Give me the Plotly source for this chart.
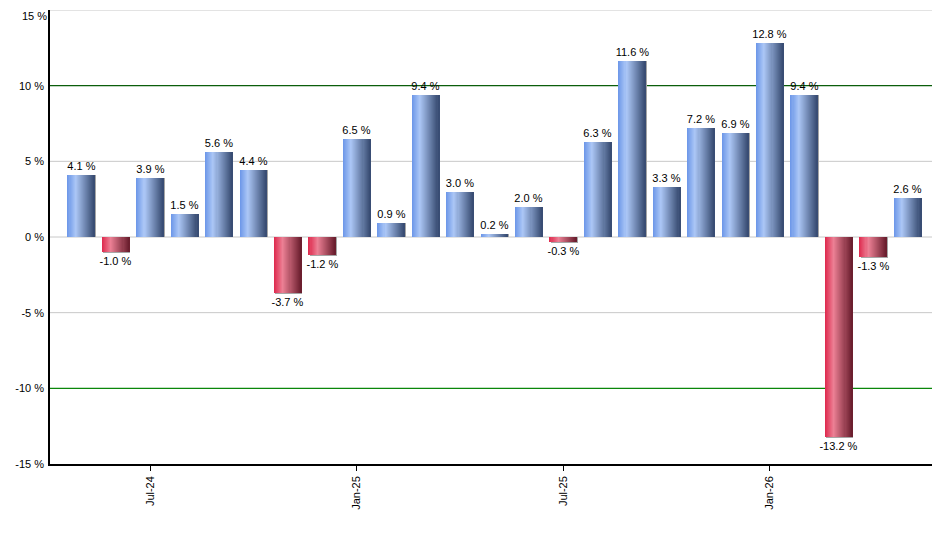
import plotly.graph_objects as go

# monthly returns, May-24 .. May-26
months = ["May-24", "Jun-24", "Jul-24", "Aug-24", "Sep-24", "Oct-24", "Nov-24", "Dec-24",
          "Jan-25", "Feb-25", "Mar-25", "Apr-25", "May-25", "Jun-25", "Jul-25", "Aug-25",
          "Sep-25", "Oct-25", "Nov-25", "Dec-25", "Jan-26", "Feb-26", "Mar-26", "Apr-26",
          "May-26"]
returns = [4.1, -1.0, 3.9, 1.5, 5.6, 4.4, -3.7, -1.2, 6.5, 0.9, 9.4, 3.0, 0.2, 2.0, -0.3,
           6.3, 11.6, 3.3, 7.2, 6.9, 12.8, 9.4, -13.2, -1.3, 2.6]
tick_labels = ["Jul-24", "Jan-25", "Jul-25", "Jan-26"]
y_ticks = [-15, -10, -5, 0, 5, 10, 15]

# horizontal gradient stops (position, rgb) for the bars
blue_stops = [(0.0, (107, 150, 232)), (0.3, (172, 199, 246)), (1.0, (54, 74, 112))]
red_stops = [(0.0, (222, 40, 76)), (0.33, (236, 128, 149)), (1.0, (104, 28, 44))]


def grad_color(stops, t):
    for (p0, c0), (p1, c1) in zip(stops[:-1], stops[1:]):
        if p0 <= t <= p1:
            f = (t - p0) / (p1 - p0)
            c = [round(a + (b - a) * f) for a, b in zip(c0, c1)]
            return f"rgb({c[0]},{c[1]},{c[2]})"
    c = stops[-1][1]
    return f"rgb({c[0]},{c[1]},{c[2]})"


bar_w = 0.78
n_strips = 26
px = 1 / 34.43  # one pixel in category units

fig = go.Figure()

# labels (invisible bar carrying the text)
fig.add_trace(go.Bar(
    x=months, y=returns, width=bar_w,
    marker=dict(color="rgba(0,0,0,0)", line=dict(width=0)),
    text=[f"{v:.1f} %" for v in returns],
    textposition="outside", textangle=0, constraintext="none",
    textfont=dict(family="Liberation Sans, Arial", size=11, color="#000000"),
    cliponaxis=False, hoverinfo="skip", showlegend=False,
))

# thin grey shadow right / below
fig.add_trace(go.Bar(
    x=months, y=[v - 0.07 if v < 0 else v for v in returns],
    width=bar_w, offset=-bar_w / 2 + px,
    marker=dict(color="#a6a6a6", line=dict(width=0)),
    hoverinfo="skip", showlegend=False,
))

# gradient made of narrow strips
step = bar_w / n_strips
for i in range(n_strips):
    t = (i + 0.5) / n_strips
    off = -bar_w / 2 + i * step
    w = min(step * 1.6, bar_w / 2 - off)
    cols = [grad_color(blue_stops if v >= 0 else red_stops, t) for v in returns]
    fig.add_trace(go.Bar(
        x=months, y=returns, width=w, offset=off,
        marker=dict(color=cols, line=dict(width=0)),
        hovertemplate="%{x}: %{y:.1f} %<extra></extra>" if i == 0 else None,
        hoverinfo=None if i == 0 else "skip",
        showlegend=False,
    ))

# horizontal grid, green limits at +/-10 %
for v in y_ticks:
    if v == -15:
        continue
    if v == 10:
        line = dict(color="#0b5e0b", width=1.4)
    elif v == -10:
        line = dict(color="#0a870a", width=1.4)
    else:
        line = dict(color="#c8c8c8", width=1)
    fig.add_hline(y=v, line=line, layer="below")

# top tick label would be clipped by the page edge, so place it just below
top = max(y_ticks)
fig.add_annotation(
    x=0, xref="paper", xanchor="right", xshift=-1,
    y=top, yref="y", yanchor="top", yshift=2,
    text=f"{top} %", showarrow=False,
    font=dict(family="Liberation Sans, Arial", size=11, color="#000000"),
)

# page body has an 8px margin, so the figure is shrunk by that much
fig.update_layout(
    width=932, height=542,
    margin=dict(l=42, r=0, t=2, b=86),
    barmode="overlay",
    bargap=0,
    plot_bgcolor="white", paper_bgcolor="white",
    font=dict(family="Liberation Sans, Arial", size=11, color="#000000"),
    xaxis=dict(
        type="category", range=[-0.91, 24.94], automargin=False,
        tickmode="array", tickvals=tick_labels, ticktext=tick_labels,
        tickangle=-90, ticks="outside", ticklen=5, tickcolor="#000000",
        showgrid=False, showline=True, linecolor="#000000", linewidth=1.5,
        tickfont=dict(size=11), ticklabelstandoff=1,
    ),
    yaxis=dict(
        range=[-15, 15], tickmode="array", tickvals=y_ticks, automargin=False,
        ticktext=["" if v == top else f"{v} %" for v in y_ticks],
        showgrid=False, zeroline=False,
        showline=True, linecolor="#000000", linewidth=1.5,
        ticks="", ticklabelstandoff=2,
        tickfont=dict(size=11),
    ),
)

fig.write_html("out.html")
